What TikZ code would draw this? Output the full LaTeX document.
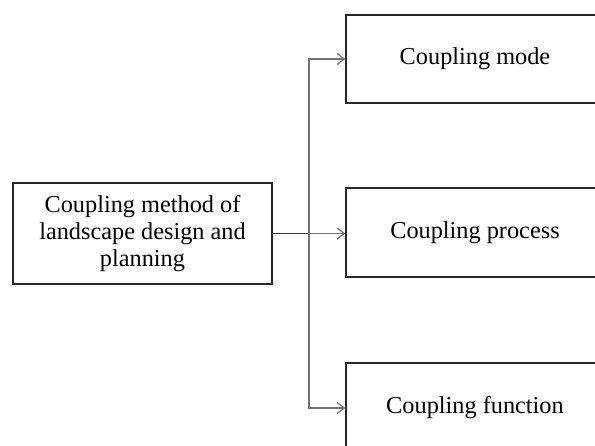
\documentclass[tikz,border=0pt]{standalone}
\usepackage{fontspec}
\setmainfont{Liberation Serif}
\usetikzlibrary{arrows.meta,positioning}

\begin{document}
\begin{tikzpicture}[x=1pt, y=-1pt, >={Straight Barb[length=7pt,width=11pt]},
    box/.style={draw=black!85, line width=1.6pt, font=\fontsize{24.3}{27}\selectfont,
        align=center, inner sep=0pt},
    link/.style={draw=black!55, line width=1.3pt}]
    \useasboundingbox (0,0) rectangle (595,446);
    \clip (0,0) rectangle (595,446);

    % Nodes {method, mode, process, function}
    \node [box, minimum width=259pt, minimum height=101pt]  (method)   at (142.5,233.5) {Coupling method of\\landscape design and\\planning};
    \node [box, minimum width=258pt, minimum height=88pt]   (mode)     at (475,59)      {Coupling mode};
    \node [box, minimum width=258pt, minimum height=89pt]   (process)  at (475,232.5)   {Coupling process};
    \node [box, minimum width=258pt, minimum height=90pt]   (function) at (475,408)     {Coupling function};
    \coordinate (split) at (309,233.5);

    % Paths
    \draw [link, draw=black!80]  (method.east)  --  (split);
    \draw [link, ->]  (split)   --    (split -| process.west);
    \draw [link, ->]  (split)   |-    (mode.west);
    \draw [link, ->]  (split)   |-    (function.west);

\end{tikzpicture}
\end{document}
